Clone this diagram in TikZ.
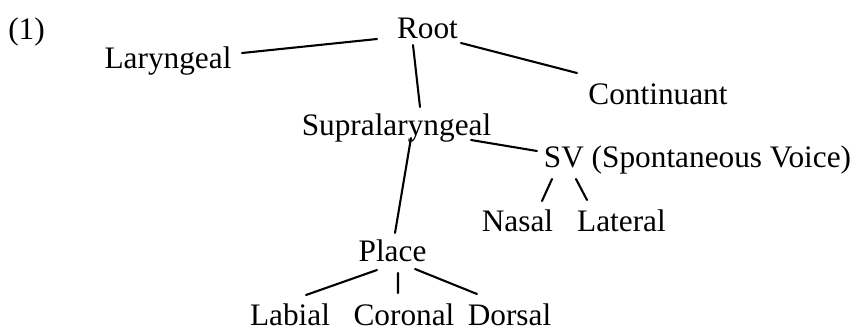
\documentclass[tikz,border=0pt]{standalone}
\usepackage{fontspec}
\setmainfont{Liberation Serif}
\usetikzlibrary{positioning}
\tikzset{
  feat/.style={anchor=base,inner sep=0pt,font=\fontsize{12}{14}\selectfont},
  branch/.style={draw=black,line width=0.8pt,line cap=round}
}

\begin{document}
\begin{tikzpicture}[x=0.3834pt,y=-0.3834pt]
    \useasboundingbox (0,0) rectangle (859,328);
    \node[feat] (num) at (26.5,39) {(1)};
    \node[feat] (root) at (427.5,38) {Root};
    \node[feat] (lar) at (168,68) {Laryngeal};
    \node[feat] (cont) at (658,104) {Continuant};
    \node[feat] (supra) at (396.5,135) {Supralaryngeal};
    \node[feat] (sv) at (697.5,167) {SV (Spontaneous Voice)};
    \node[feat] (nas) at (517.5,231) {Nasal};
    \node[feat] (lat) at (621.5,231) {Lateral};
    \node[feat] (place) at (392.5,261) {Place};
    \node[feat] (lab) at (290,325) {Labial};
    \node[feat] (cor) at (404,325) {Coronal};
    \node[feat] (dor) at (509.5,325) {Dorsal};
    % branches, offsets taken from each base
    \foreach \a/\ax/\ay/\b/\bx/\by in {root/-50.5/1/lar/74/-15,
        root/33.5/5/cont/-81/-31, root/-14.5/7/supra/23.5/-28,
        supra/74.5/5/sv/-160.5/-16, supra/14.5/3/place/2.5/-28,
        sv/-145.5/12/nas/24.5/-30, sv/-121.5/12/lat/-34.5/-31,
        place/-15.5/9/lab/16/-30, place/5.5/12/cor/-6/-32,
        place/22.5/8/dor/-32.5/-31}{
      \draw[branch] ([shift={(\ax,\ay)}]\a.base) -- ([shift={(\bx,\by)}]\b.base);}
\end{tikzpicture}
\end{document}
